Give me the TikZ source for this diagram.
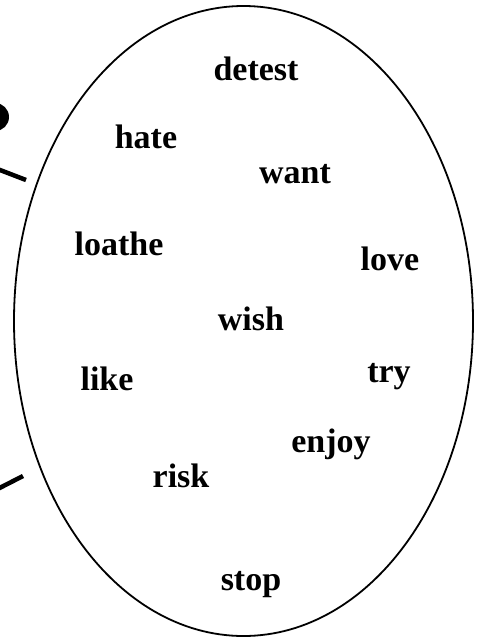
\documentclass[tikz,border=0pt]{standalone}
\usepackage{fontspec}
\setmainfont{Liberation Serif}

\begin{document}
\begin{tikzpicture}[x=1pt,y=-1pt,
  word/.style={anchor=base,inner sep=0pt,font=\bfseries\fontsize{34}{40}\selectfont},
  rim/.style={line width=1.8pt,black},
  stub/.style={line width=4.5pt,black}]
\useasboundingbox (0,0) rectangle (480,638);
\clip (0,0) rectangle (480,638);

% the set of verbs
\draw[rim] (243.5,321) ellipse [x radius=229.5, y radius=315];

% pieces cut off at the left edge
\fill (-5,117) circle (14);
\coordinate (s1a) at (-20,162.3);
\coordinate (s1b) at (26,180);
\coordinate (s2a) at (-20,498);
\coordinate (s2b) at (23,476);
\draw[stub] (s1a) -- (s1b);
\draw[stub] (s2a) -- (s2b);

\node[word] (detest) at (256,80) {detest};
\node[word] (hate) at (146,148) {hate};
\node[word] (want) at (295,183) {want};
\node[word] (loathe) at (119,255) {loathe};
\node[word] (love) at (390,270) {love};
\node[word] (wish) at (251,330) {wish};
\node[word] (try) at (389,382) {try};
\node[word] (like) at (107,390) {like};
\node[word] (enjoy) at (331,452) {enjoy};
\node[word] (risk) at (181,487) {risk};
\node[word] (stop) at (251,590) {stop};

\end{tikzpicture}
\end{document}
